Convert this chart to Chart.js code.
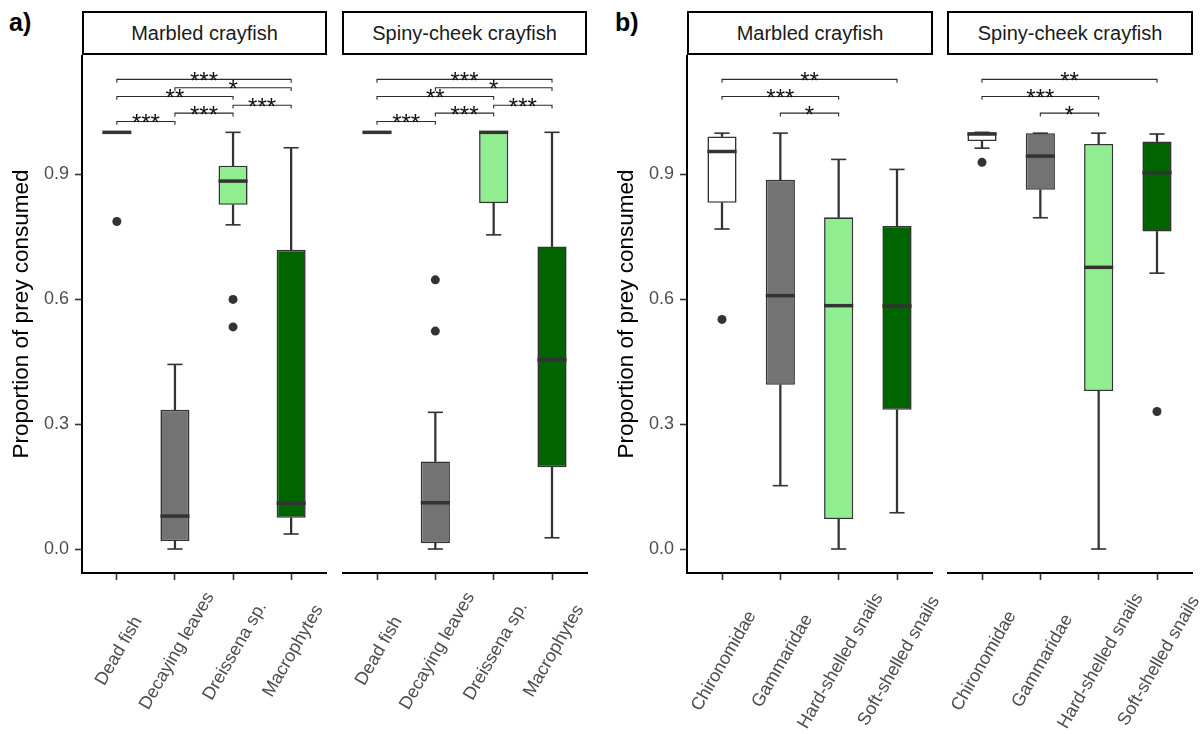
<!DOCTYPE html>
<html>
<head>
<meta charset="utf-8">
<script src="https://cdn.jsdelivr.net/npm/chart.js@4.4.0/dist/chart.umd.min.js"></script>
<style>
  body { margin: 0; background: #fff; width: 1203px; height: 734px; position: relative; overflow: hidden;
         font-family: 'Liberation Sans', Arial, sans-serif; }
  canvas { position: absolute; top: 55px; }
  .strip { position: absolute; top: 11px; height: 44px; box-sizing: border-box; border: 2px solid #000;
           display: flex; align-items: center; justify-content: center; font-size: 20px; color: #1a1a1a; }
  .tag { position: absolute; top: 10px; font-weight: bold; font-size: 25px; line-height: 1; color: #000; }
</style>
</head>
<body>
<div class="tag" style="left:9px">a)</div>
<div class="tag" style="left:615px">b)</div>
<div class="strip" style="left:82px;width:245px">Marbled crayfish</div>
<div class="strip" style="left:342px;width:245px">Spiny-cheek crayfish</div>
<div class="strip" style="left:687px;width:246px">Marbled crayfish</div>
<div class="strip" style="left:947px;width:246px">Spiny-cheek crayfish</div>
<canvas id="a1" width="330" height="679" style="left:0px"></canvas>
<canvas id="a2" width="250" height="679" style="left:342px"></canvas>
<canvas id="b1" width="346" height="679" style="left:600px"></canvas>
<canvas id="b2" width="256" height="679" style="left:947px"></canvas>
<script>
Chart.defaults.font.family = "'Liberation Sans', Arial, sans-serif";

const preyA = ["Dead fish", "Decaying leaves", "Dreissena sp.", "Macrophytes"];
const preyB = ["Chironomidae", "Gammaridae", "Hard-shelled snails", "Soft-shelled snails"];
const yTicks = [0, 0.3, 0.6, 0.9];
const fillColors = ["#ffffff", "#737373", "#90ee90", "#006400"];

// [lower whisker, Q1, median, Q3, upper whisker] for each prey
const statsMarbledA = [
  [1.0, 1.0, 1.0, 1.0, 1.0],
  [0.0, 0.019, 0.079, 0.334, 0.443],
  [0.778, 0.826, 0.883, 0.92, 1.0],
  [0.036, 0.075, 0.11, 0.718, 0.963]
];
const statsSpinyA = [
  [1.0, 1.0, 1.0, 1.0, 1.0],
  [0.0, 0.014, 0.111, 0.21, 0.328],
  [0.754, 0.83, 1.0, 1.0, 1.0],
  [0.027, 0.196, 0.454, 0.726, 1.0]
];
const statsMarbledB = [
  [0.768, 0.831, 0.954, 0.99, 0.998],
  [0.152, 0.394, 0.608, 0.886, 0.998],
  [0.0, 0.072, 0.584, 0.796, 0.935],
  [0.087, 0.334, 0.583, 0.775, 0.911]
];
const statsSpinyB = [
  [0.962, 0.979, 0.996, 1.0, 1.0],
  [0.795, 0.862, 0.943, 0.998, 0.998],
  [0.0, 0.379, 0.676, 0.972, 0.998],
  [0.662, 0.762, 0.903, 0.978, 0.996]
];

// outliers: [prey index, value]
const outliersMarbledA = [[0, 0.786], [2, 0.599], [2, 0.533]];
const outliersSpinyA = [[1, 0.646], [1, 0.523]];
const outliersMarbledB = [[0, 0.551]];
const outliersSpinyB = [[0, 0.928], [3, 0.330]];

// significance brackets: [from, to, height, label]
const bracketsA = [
  [0, 1, 1.026, "***"], [1, 2, 1.046, "***"], [2, 3, 1.065, "***"],
  [0, 2, 1.086, "**"], [1, 3, 1.107, "*"], [0, 3, 1.127, "***"]
];
const bracketsB = [[1, 2, 1.046, "*"], [0, 2, 1.086, "***"], [0, 3, 1.127, "**"]];

const boxExtras = {
  id: "boxExtras",
  afterDatasetsDraw(chart, args, o) {
    const { ctx } = chart;
    const xs = chart.scales.x, ys = chart.scales.y;
    const unit = xs.getPixelForValue(1) - xs.getPixelForValue(0);
    const seg = (x1, y1, x2, y2) => { ctx.beginPath(); ctx.moveTo(x1, y1); ctx.lineTo(x2, y2); ctx.stroke(); };
    ctx.save();
    ctx.strokeStyle = "#333";
    o.stats.forEach((s, i) => {
      const cx = xs.getPixelForValue(i);
      ctx.lineWidth = 1.6;
      [s[0], s[4]].forEach(v => {
        const y = ys.getPixelForValue(v);
        seg(cx - unit * 0.13, y, cx + unit * 0.13, y);
      });
      ctx.lineWidth = 3.5;
      const ym = ys.getPixelForValue(s[2]);
      seg(cx - unit * 0.25, ym, cx + unit * 0.25, ym);
    });
    ctx.lineWidth = 1.1;
    ctx.strokeStyle = "#2b2b2b";
    ctx.font = "24px 'Liberation Sans', Arial, sans-serif";
    ctx.textAlign = "center";
    ctx.textBaseline = "alphabetic";
    ctx.fillStyle = "#111";
    o.brackets.forEach(([a, b, v, txt]) => {
      const x1 = xs.getPixelForValue(a), x2 = xs.getPixelForValue(b);
      const y = ys.getPixelForValue(v), yt = ys.getPixelForValue(v - 0.008);
      ctx.beginPath();
      ctx.moveTo(x1, yt); ctx.lineTo(x1, y); ctx.lineTo(x2, y); ctx.lineTo(x2, yt);
      ctx.stroke();
      const m = ctx.measureText(txt);
      const base = y - 3 + (m.actualBoundingBoxAscent - m.actualBoundingBoxDescent) / 2;
      ctx.fillText(txt, (x1 + x2) / 2, base);
    });
    ctx.restore();
  },
  afterDraw(chart, args, o) {
    const { ctx, chartArea } = chart;
    const xs = chart.scales.x;
    ctx.save();
    ctx.font = "18px 'Liberation Sans', Arial, sans-serif";
    ctx.fillStyle = "#4d4d4d";
    ctx.textAlign = "center";
    ctx.textBaseline = "middle";
    o.labels.forEach((t, i) => {
      ctx.save();
      ctx.translate(xs.getPixelForValue(i) + 2, chartArea.bottom + o.labelDrop);
      ctx.rotate(-Math.PI / 3);
      ctx.fillText(t, 0, 0);
      ctx.restore();
    });
    ctx.restore();
  }
};

function makePanel(id, p) {
  const boxes = p.stats.map((s, i) => ({ x: i, y: [s[1], s[3]] }));
  const lowWhisker = p.stats.map((s, i) => ({ x: i, y: [s[0], s[1]] }));
  const highWhisker = p.stats.map((s, i) => ({ x: i, y: [s[3], s[4]] }));
  const points = p.outliers.map(([i, v]) => ({ x: i, y: v }));
  const whisker = { type: "bar", backgroundColor: "#333", borderWidth: 0, barThickness: 1.6, grouped: false, order: 2 };

  return new Chart(document.getElementById(id), {
    type: "bar",
    data: {
      datasets: [
        { type: "bar", data: boxes, backgroundColor: fillColors, borderColor: "#333", borderWidth: 1.6,
          borderSkipped: false, grouped: false, barPercentage: 0.5, categoryPercentage: 1, order: 1 },
        { ...whisker, data: lowWhisker },
        { ...whisker, data: highWhisker },
        { type: "scatter", data: points, pointRadius: 4.5, pointBackgroundColor: "#333", pointBorderWidth: 0, order: 0 }
      ]
    },
    plugins: [boxExtras],
    options: {
      responsive: false,
      animation: false,
      events: [],
      layout: { padding: { left: 0, top: 0, right: p.padRight, bottom: 0 }, autoPadding: false },
      plugins: {
        legend: { display: false },
        tooltip: { enabled: false },
        boxExtras: { stats: p.stats, brackets: p.brackets, labels: p.labels, labelDrop: p.labelDrop }
      },
      scales: {
        x: {
          type: "linear", min: -0.6, max: 3.6, offset: false,
          afterBuildTicks: s => { s.ticks = p.labels.map((_, i) => ({ value: i })); },
          afterFit: s => { s.height = 161; s.paddingLeft = 0; s.paddingRight = 0; },
          ticks: { display: false },
          grid: { display: true, offset: false, drawOnChartArea: false, drawTicks: true, tickLength: 7, tickWidth: 1.6, tickColor: "#333" },
          border: { display: true, color: "#000", width: 2 }
        },
        y: {
          type: "linear", min: -0.0576, max: 1.1856, display: p.yAxis,
          afterBuildTicks: s => { s.ticks = yTicks.map(v => ({ value: v })); },
          afterFit: s => { if (p.yAxis) s.width = p.yWidth; s.paddingTop = 0; s.paddingBottom = 0; },
          ticks: { color: "#4d4d4d", font: { size: 18 }, padding: 6, callback: v => v.toFixed(1) },
          grid: { display: true, drawOnChartArea: false, drawTicks: true, tickLength: 7, tickWidth: 1.6, tickColor: "#333" },
          border: { display: true, color: "#000", width: 2 },
          title: { display: true, text: "Proportion of prey consumed", color: "#000",
                   font: { size: 22.5, lineHeight: 1 }, padding: { top: p.titlePad, bottom: 0 } }
        }
      }
    }
  });
}

makePanel("a1", { labels: preyA, stats: statsMarbledA, outliers: outliersMarbledA, brackets: bracketsA,
                  yAxis: true, yWidth: 82, titlePad: 11, padRight: 4, labelDrop: 78 });
makePanel("a2", { labels: preyA, stats: statsSpinyA, outliers: outliersSpinyA, brackets: bracketsA,
                  yAxis: false, padRight: 5, labelDrop: 78 });
makePanel("b1", { labels: preyB, stats: statsMarbledB, outliers: outliersMarbledB, brackets: bracketsB,
                  yAxis: true, yWidth: 87, titlePad: 15.5, padRight: 14, labelDrop: 88 });
makePanel("b2", { labels: preyB, stats: statsSpinyB, outliers: outliersSpinyB, brackets: bracketsB,
                  yAxis: false, padRight: 11, labelDrop: 88 });
</script>
</body>
</html>
